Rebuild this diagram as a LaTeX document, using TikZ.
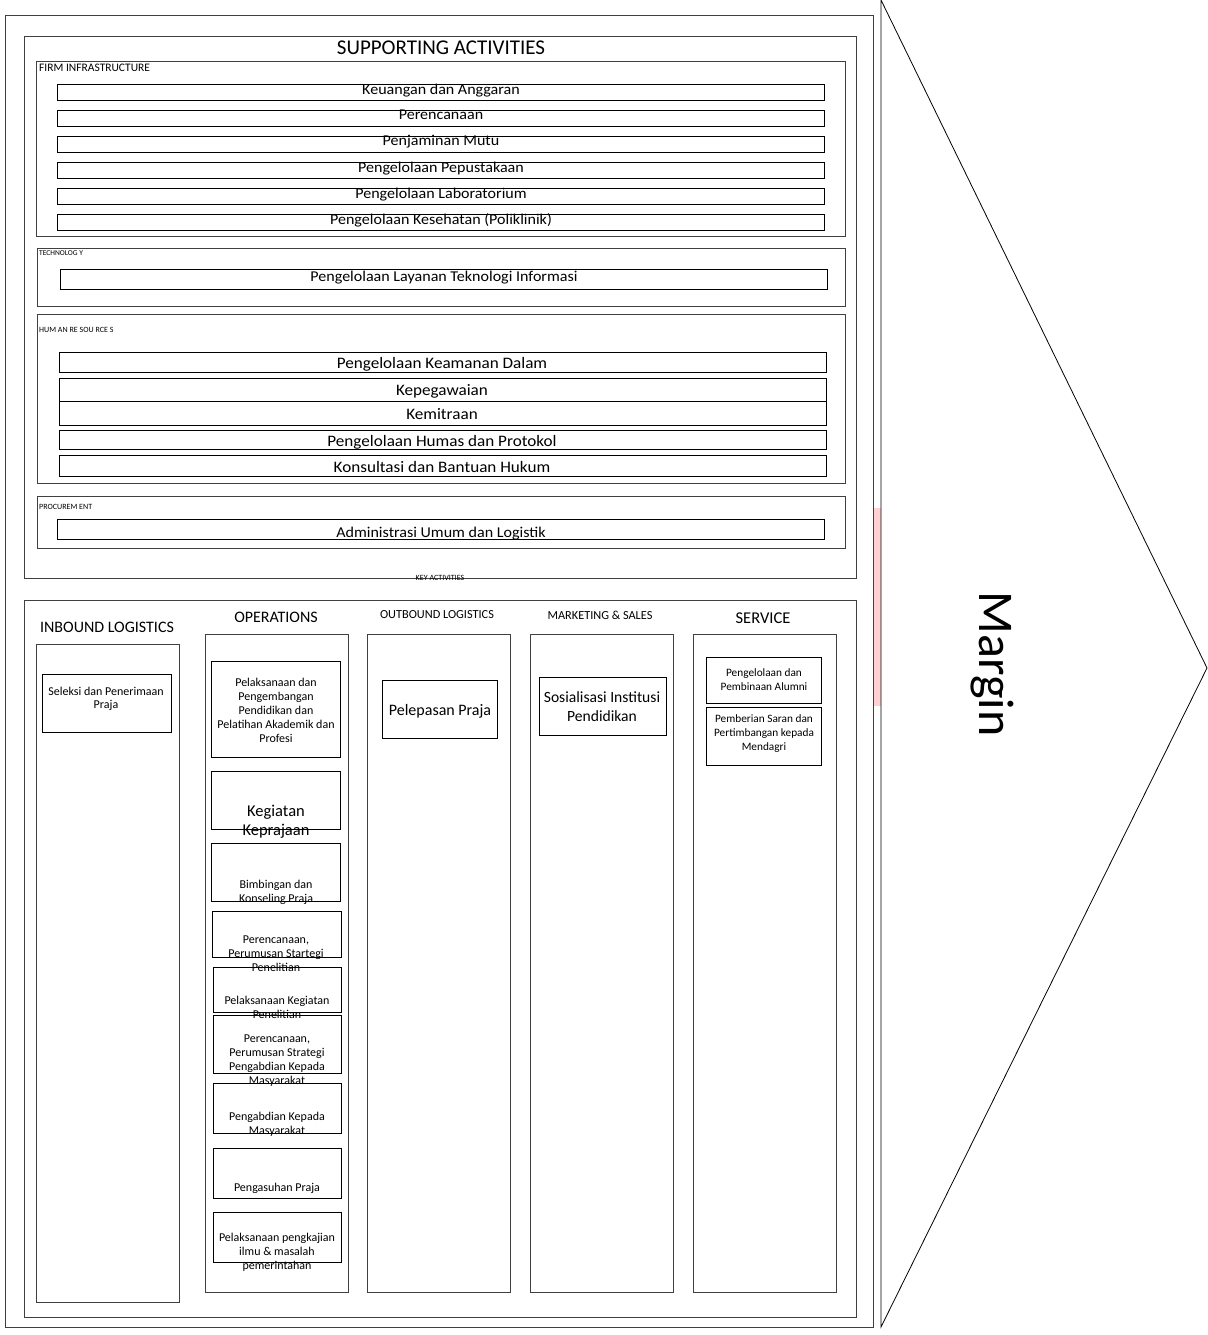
\documentclass[tikz,border=0pt]{standalone}
\usepackage{fontspec}
\setmainfont{Carlito}
\newfontfamily\widef[FakeStretch=1.07]{Carlito}
\newcommand\fsz[2]{\fontsize{#1}{#2}\selectfont}
\newcommand\rbx[6][box]{\node[#1, minimum width={(#5-#3)*1pt}, minimum height={(#6-#4)*1pt}] (#2) at ({(#3+#5)/2},{(#4+#6)/2}) {};}
\tikzset{
  box/.style={draw=black, line width=0.8pt, inner sep=0pt, outer sep=0pt},
  frame/.style={draw=black!75, line width=0.9pt, inner sep=0pt, outer sep=0pt},
  txt/.style={inner sep=0pt, align=center},
  lbl/.style={inner sep=0pt, anchor=west},
  rowt/.style={inner sep=0pt, anchor=base, font=\widef\fsz{15}{17}},
  hrt/.style={inner sep=0pt, anchor=base, font=\widef\fsz{16}{18}},
  opt/.style={txt, font=\fsz{12}{14}},
  svtx/.style={txt, font=\fsz{11.3}{14}},
}
\begin{document}
\begin{tikzpicture}[x=1pt,y=-1pt]
\useasboundingbox (0,0) rectangle (1207,1335);
\fill[white] (0,0) rectangle (1207,1335);
% watermark strip
\fill[red!18] (873,508) rectangle (881,706);
% margin arrow
\coordinate (mt) at (881,0);
\coordinate (ma) at (1207,668);
\coordinate (mb) at (881,1327);
\draw[line width=0.8pt] (mt) -- (ma) -- (mb) -- cycle;
\node[txt, rotate=-90, font=\fsz{50}{56}] (margin) at (992,664) {Margin};
% outer frame
\rbx[frame]{outer}{5}{15}{873}{1327}
% supporting activities
\rbx[frame]{sup}{24}{36}{856}{578}
\node[inner sep=0pt, anchor=base, font=\fsz{21}{24}] (supt) at (441,55) {SUPPORTING ACTIVITIES};
\rbx[frame]{firm}{36}{61}{845}{236}
\node[lbl, font=\fsz{11.5}{13}] (firmt) at (39,68) {FIRM INFRASTRUCTURE};
\rbx{r1}{57}{84}{824}{100}
\node[rowt] (r1t) at (441,94.5) {Keuangan dan Anggaran};
\rbx{r2}{57}{110}{824}{126}
\node[rowt] (r2t) at (441,120) {Perencanaan};
\rbx{r3}{57}{136}{824}{152}
\node[rowt] (r3t) at (441,146) {Penjaminan Mutu};
\rbx{r4}{57}{162}{824}{178}
\node[rowt] (r4t) at (441,172) {Pengelolaan Pepustakaan};
\rbx{r5}{57}{188}{824}{204}
\node[rowt] (r5t) at (441,198) {Pengelolaan Laboratorium};
\rbx{r6}{57}{214}{824}{230}
\node[rowt] (r6t) at (441,224.5) {Pengelolaan Kesehatan (Poliklinik)};
% technology
\rbx[frame]{tech}{37}{248}{845}{306}
\node[lbl, font=\fsz{7.5}{8}] (techt) at (39,253) {TECHNOLOG Y};
\rbx{t1}{60}{269}{827}{289}
\node[rowt] (t1t) at (444,281.5) {Pengelolaan Layanan Teknologi Informasi};
% human resources
\rbx[frame]{hr}{37}{314}{845}{483}
\node[lbl, font=\fsz{8}{9}] (hrt) at (39,330) {HUM AN RE SOU RCE S};
\rbx{h1}{59}{352}{826}{372}
\node[hrt] (h1t) at (442,368) {Pengelolaan Keamanan Dalam};
\rbx{h2}{59}{378}{826}{401}
\node[hrt] (h2t) at (442,395) {Kepegawaian};
\rbx{h3}{59}{401}{826}{425}
\node[hrt] (h3t) at (442,419) {Kemitraan};
\rbx{h4}{59}{430}{826}{449}
\node[hrt] (h4t) at (442,446) {Pengelolaan Humas dan Protokol};
\rbx{h5}{59}{455}{826}{476}
\node[hrt] (h5t) at (442,472) {Konsultasi dan Bantuan Hukum};
% procurement
\rbx[frame]{proc}{37}{496}{845}{548}
\node[lbl, font=\fsz{8}{9}] (proct) at (39,507) {PROCUREM ENT};
\rbx{p1}{57}{519}{824}{539}
\node[rowt] (p1t) at (441,537) {Administrasi Umum dan Logistik};
\node[txt, font=\fsz{8}{9}] (keyt) at (440,578) {KEY ACTIVITIES};
% key activities
\rbx[frame]{key}{24}{600}{856}{1317}
% inbound
\node[txt, font=\fsz{16}{18}] (inbt) at (107,627) {INBOUND LOGISTICS};
\rbx[frame]{inb}{36}{644}{179}{1302}
\rbx{i1}{42}{674}{171}{732}
\node[txt, font=\fsz{12}{12.5}] (i1t) at (106,699) {Seleksi dan Penerimaan\\Praja};
% operations
\node[txt, font=\fsz{16}{18}] (opst) at (276,617) {OPERATIONS};
\rbx[frame]{ops}{205}{634}{348}{1292}
\rbx{o1}{211}{661}{340}{757}
\node[opt] (o1t) at (276,710) {Pelaksanaan dan\\Pengembangan\\Pendidikan dan\\Pelatihan Akademik dan\\Profesi};
\rbx{o2}{211}{771}{340}{829}
\node[txt, font=\fsz{16.5}{19}] (o2t) at (276,822) {Kegiatan\\Keprajaan};
\rbx{o3}{211}{843}{340}{901}
\node[opt] (o3t) at (276,892) {Bimbingan dan\\Konseling Praja};
\rbx{o4}{212}{911}{341}{957}
\node[opt] (o4t) at (276,954) {Perencanaan,\\Perumusan Startegi\\Penelitian};
\rbx{o5}{213}{967}{341}{1012}
\node[opt] (o5t) at (277,1007) {Pelaksanaan Kegiatan\\Penelitian};
\rbx{o6}{213}{1015}{341}{1073}
\node[opt] (o6t) at (277,1061) {Perencanaan,\\Perumusan Strategi\\Pengabdian Kepada\\Masyarakat};
\rbx{o7}{213}{1083}{341}{1133}
\node[opt] (o7t) at (277,1124) {Pengabdian Kepada\\Masyarakat};
\rbx{o8}{213}{1148}{341}{1198}
\node[opt] (o8t) at (277,1188) {Pengasuhan Praja};
\rbx{o9}{213}{1212}{341}{1262}
\node[opt] (o9t) at (277,1252) {Pelaksanaan pengkajian\\ilmu \& masalah\\pemerintahan};
% outbound
\node[txt, font=\fsz{12.3}{14}] (outt) at (437,615) {OUTBOUND LOGISTICS};
\rbx[frame]{outb}{367}{634}{510}{1292}
\rbx{ob1}{382}{680}{497}{738}
\node[txt, font=\fsz{16}{18}] (ob1t) at (440,711) {Pelepasan Praja};
% marketing
\node[txt, font=\fsz{12.3}{14}] (mkt) at (600,615) {MARKETING \& SALES};
\rbx[frame]{mkb}{530}{634}{673}{1292}
\rbx{m1}{539}{677}{666}{735}
\node[txt, font=\fsz{15.6}{19}] (m1t) at (602,707) {Sosialisasi Institusi\\Pendidikan};
% service
\node[txt, font=\fsz{16.5}{18}] (svt) at (763,618) {SERVICE};
\rbx[frame]{svb}{693}{634}{836}{1292}
\rbx{s1}{706}{657}{821}{703}
\node[svtx] (s1t) at (764,680) {Pengelolaan dan\\Pembinaan Alumni};
\rbx{s2}{706}{707}{821}{765}
\node[svtx] (s2t) at (764,734) {Pemberian Saran dan\\Pertimbangan kepada\\Mendagri};
\end{tikzpicture}
\end{document}
